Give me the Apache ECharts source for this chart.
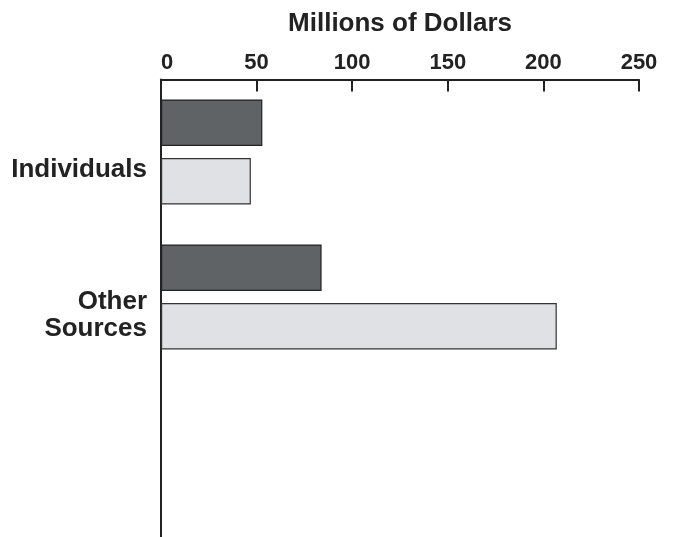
<!DOCTYPE html>
<html>
<head>
<meta charset="utf-8">
<script src="https://cdn.jsdelivr.net/npm/echarts@6/dist/echarts.min.js"></script>
<style>html,body{margin:0;padding:0;background:#fff}#c{width:676px;height:537px}</style>
</head>
<body>
<div id="c"></div>
<script>
var categories = ['Individuals', 'Other\nSources', '', ' '];
var seriesDark = [53, 84, null, null];
var seriesLight = [47, 207, null, null];
var xTicks = [0, 50, 100, 150, 200, 250];

var chart = echarts.init(document.getElementById('c'), null, {renderer: 'canvas'});
var font = 'Liberation Sans, Arial, Helvetica, sans-serif';
chart.setOption({
  animation: false,
  grid: {left: 161, right: 37, top: 79.5, bottom: -122.5, containLabel: false, outerBoundsMode: 'none'},
  xAxis: {
    type: 'value', position: 'top', min: xTicks[0], max: xTicks[xTicks.length - 1], interval: 50,
    name: 'Millions of Dollars', nameLocation: 'middle', nameGap: 43,
    nameTextStyle: {fontFamily: font, fontWeight: 'bold', fontSize: 26, color: '#222'},
    axisLine: {show: true, lineStyle: {color: '#222', width: 2}},
    axisTick: {show: true, inside: true, length: 12, lineStyle: {color: '#222', width: 2}},
    axisLabel: {fontFamily: font, fontWeight: 'bold', fontSize: 22, color: '#222', margin: 6,
      alignMinLabel: 'left'},
    splitLine: {show: false}
  },
  yAxis: {
    type: 'category', data: categories, inverse: true,
    axisLine: {show: true, lineStyle: {color: '#222', width: 2}},
    axisTick: {show: false},
    axisLabel: {
      margin: 14, align: 'right',
      formatter: function (v) {
        if (!v.trim()) return '';
        return '{s| }\n' + v.split('\n').map(function (p) { return '{t|' + p + '}'; }).join('\n');
      },
      rich: {
        s: {fontSize: 10, lineHeight: 36},
        t: {fontFamily: font, fontWeight: 'bold', fontSize: 26, color: '#222', lineHeight: 27, align: 'right'}
      }
    }
  },
  series: [
    {type: 'bar', data: seriesDark, barWidth: 46.5, barGap: '26%',
     itemStyle: {color: '#5f6366', borderColor: '#222', borderWidth: 1.2}},
    {type: 'bar', data: seriesLight, barWidth: 46.5,
     itemStyle: {color: '#e0e1e4', borderColor: '#333', borderWidth: 1.2}}
  ]
});
</script>
</body>
</html>
